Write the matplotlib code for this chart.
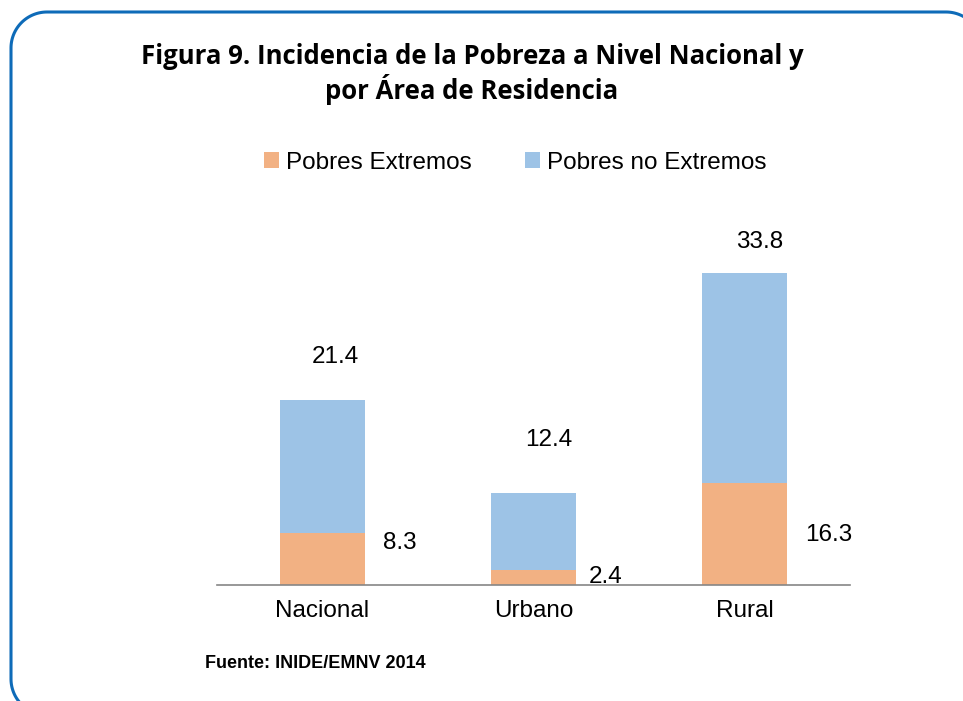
from matplotlib import pyplot as plt
import numpy as np

# Data (EMNV 2014, % of population)
categories = ["Nacional", "Urbano", "Rural"]
extremos = [8.3, 2.4, 16.3]
no_extremos = [21.4, 12.4, 33.8]

color_ext = "#F2B183"
color_noext = "#9DC3E6"
frame_color = "#0E6BB8"


def rounded_frame(left, bottom, right, top, r, n=30):
    """Outline of a rounded rectangle as one polyline (pixel units)."""
    corners = [((left + r, bottom + r), 270, 180),
               ((left + r, top - r), 180, 90),
               ((right - r, top - r), 90, 0),
               ((right - r, bottom + r), 0, -90)]
    xs, ys = [], []
    for (cx, cy), a0, a1 in corners:
        t = np.radians(np.linspace(a0, a1, n))
        xs.extend(cx + r * np.cos(t))
        ys.extend(cy + r * np.sin(t))
    xs.append(xs[0])
    ys.append(ys[0])
    return xs, ys


fig = plt.figure(figsize=(9.63, 7.01), dpi=100)

# Background axes in pixel units, only used for the rounded blue frame.
# The frame runs off the right and bottom edges of the picture.
bg = fig.add_axes([0, 0, 1, 1])
bg.set_xlim(0, 963)
bg.set_ylim(0, 701)
bg.axis("off")
fx, fy = rounded_frame(11, -14, 982, 689, 36)
bg.plot(fx, fy, color=frame_color, linewidth=2.2)

fig.text(0.49, 0.919, "Figura 9. Incidencia de la Pobreza a Nivel Nacional y",
         ha="center", va="center", fontsize=18.5, fontweight="bold", family="Open Sans")
fig.text(0.49, 0.873, "por Área de Residencia",
         ha="center", va="center", fontsize=18.5, fontweight="bold", family="Open Sans")

ax = fig.add_axes([217 / 963, 116 / 701, 633 / 963, 374 / 701])
x = np.arange(len(categories))
b1 = ax.bar(x, extremos, width=0.4, color=color_ext, label="Pobres Extremos")
b2 = ax.bar(x, no_extremos, width=0.4, bottom=extremos, color=color_noext,
            label="Pobres no Extremos")

ax.set_xlim(-0.5, 2.5)
ax.set_ylim(0, 60)
ax.set_yticks([])
for s in ["top", "right", "left"]:
    ax.spines[s].set_visible(False)
ax.spines["bottom"].set_color("#868686")
ax.spines["bottom"].set_linewidth(1.2)
ax.set_xticks(x)
ax.set_xticklabels(categories, fontsize=17.5, family="Liberation Sans")
ax.tick_params(axis="x", length=0, pad=11)

# Value labels, placed by hand like in the original
top_pos = [(0.06, 36.6), (0.07, 23.3), (0.07, 55.1)]
ext_pos = [(0.365, 6.7), (0.34, 1.3), (0.40, 8.0)]
for i in range(len(categories)):
    ax.text(i + top_pos[i][0], top_pos[i][1], f"{no_extremos[i]:.1f}",
            ha="center", va="center", fontsize=17.5, family="Liberation Sans")
    ax.text(i + ext_pos[i][0], ext_pos[i][1], f"{extremos[i]:.1f}",
            ha="center", va="center", fontsize=17.5, family="Liberation Sans")

fig.legend(handles=[b1, b2], loc="center", bbox_to_anchor=(0.535, 0.768), ncol=2,
           frameon=False, prop={"family": "Liberation Sans", "size": 17.5},
           handlelength=0.6, handleheight=0.6, handletextpad=0.3, columnspacing=2.2)

fig.text(205 / 963, 1 - 663 / 701, "Fuente: INIDE/EMNV 2014", ha="left", va="center",
         fontsize=13, fontweight="bold", family="Liberation Sans")

plt.savefig("out.png", format="png", dpi=100)
